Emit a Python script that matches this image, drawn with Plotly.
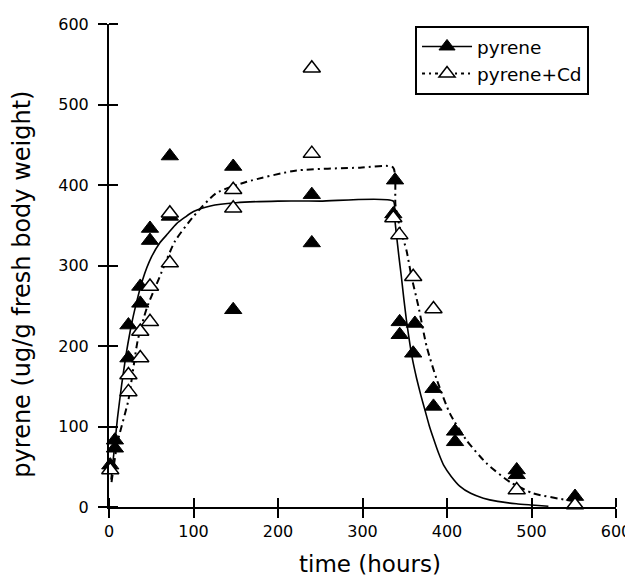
import plotly.graph_objects as go

# ---- data ----
t_pyr = [1.5, 7, 7, 23, 23, 37, 37, 48.5, 48.5, 72, 72, 147, 147, 240, 240,
         338.5, 336.5, 344, 344, 362, 360, 384, 384, 409.5, 409.5, 482.5, 482.5, 551.5]
y_pyr = [52, 83, 73, 226, 185, 274, 253, 346, 331, 436, 361, 423, 245, 388, 328,
         406, 364, 230, 214, 228, 191, 147, 125, 94, 81, 46, 40, 13]

t_cd = [1.5, 23, 23, 37, 37, 48.5, 48.5, 72, 72, 147, 147, 240, 240,
        336.5, 343.6, 360, 384, 482.5, 551.5]
y_cd = [46, 164, 143, 218, 185, 274, 230, 365, 303, 394, 371, 545, 439,
        359, 338, 286, 246, 21, 2.5]

fit_t_pyr = [2.4, 5, 10, 15, 20, 25, 30, 40, 50, 60, 70, 80, 90, 100, 120, 150, 200, 250,
             336.5, 338, 340, 343, 346, 349, 352, 355, 358, 361, 364, 369, 374, 379, 384,
             390, 396, 405, 415, 428, 443, 460, 482, 500, 520]
fit_y_pyr = [34, 59, 110, 152, 188, 218, 243, 283, 310, 328, 340, 352, 360, 367, 374, 378, 380, 380,
             380, 360, 340, 312, 286, 258, 232, 210, 190, 174, 160, 139, 120, 101, 85,
             67, 52, 38, 26, 17, 11, 7, 4, 2.5, 1]

fit_t_cd = [3, 10, 23, 34, 45, 60, 78, 100, 127, 163, 222, 297, 336,
            339, 344, 352, 358, 366, 376, 388, 403.5, 423, 447, 474.6, 502, 541.6, 552]
fit_y_cd = [31, 80, 133, 207, 248, 286, 330, 361, 390, 404, 418, 421.5, 422,
            375, 348, 319, 286, 250, 199, 158, 116, 83, 54, 31, 17, 8.7, 7]

x_ticks = [0, 100, 200, 300, 400, 500, 600]
y_ticks = [0, 100, 200, 300, 400, 500, 600]

x_title = "time (hours)"
y_title = "pyrene (ug/g fresh body weight)"

FONT = "DejaVu Sans"
DASH = "7px,4px,2px,4px"

fig = go.Figure()

# fitted curves
fig.add_trace(go.Scatter(x=fit_t_pyr, y=fit_y_pyr, mode="lines",
                         line=dict(color="black", width=1.6, shape="spline", smoothing=0.6),
                         showlegend=False, hoverinfo="skip"))
fig.add_trace(go.Scatter(x=fit_t_cd, y=fit_y_cd, mode="lines",
                         line=dict(color="black", width=2, dash=DASH, shape="spline", smoothing=0.6),
                         showlegend=False, hoverinfo="skip"))

# data points
fig.add_trace(go.Scatter(x=t_pyr, y=y_pyr, mode="markers", showlegend=False, cliponaxis=False,
                         marker=dict(symbol="triangle-up", size=15, color="black",
                                     line=dict(color="black", width=1))))
fig.add_trace(go.Scatter(x=t_cd, y=y_cd, mode="markers", showlegend=False, cliponaxis=False,
                         marker=dict(symbol="triangle-up", size=15, color="white",
                                     line=dict(color="black", width=1.5))))

# legend entries
fig.add_trace(go.Scatter(x=[None], y=[None], mode="lines+markers", name="pyrene",
                         line=dict(color="black", width=1.6),
                         marker=dict(symbol="triangle-up", size=14, color="black",
                                     line=dict(color="black", width=1))))
fig.add_trace(go.Scatter(x=[None], y=[None], mode="lines+markers", name="pyrene+Cd",
                         line=dict(color="black", width=2, dash="3px,4px,2px,4px"),
                         marker=dict(symbol="triangle-up", size=14, color="white",
                                     line=dict(color="black", width=1.5))))

axis_common = dict(showgrid=False, zeroline=False, color="black", automargin=False,
                   ticks="outside", ticklen=9, tickwidth=1.5, tickcolor="black",
                   showline=True, linecolor="black", linewidth=2,
                   tickfont=dict(family=FONT, size=16, color="black"))

# the page body has an 8px margin, so the figure is 8px smaller than the window
fig.update_layout(
    width=625, height=571,
    margin=dict(l=101, r=17, t=16, b=72),
    paper_bgcolor="white", plot_bgcolor="white",
    font=dict(family=FONT, color="black"),
    xaxis=dict(range=[0, 600], tickvals=x_ticks, ticktext=[str(v) for v in x_ticks],
               minor=dict(tickvals=x_ticks, ticks="inside", ticklen=9, tickwidth=1.5,
                          tickcolor="black", showgrid=False),
               **axis_common),
    yaxis=dict(range=[0, 600], tickvals=y_ticks, ticktext=[str(v) for v in y_ticks],
               minor=dict(tickvals=y_ticks, ticks="inside", ticklen=9, tickwidth=1.5,
                          tickcolor="black", showgrid=False),
               ticklabelstandoff=6,
               **axis_common),
    legend=dict(x=0.6036, y=0.996, xanchor="left", yanchor="top",
                bordercolor="black", borderwidth=2, bgcolor="white",
                font=dict(family=FONT, size=18.5, color="black"),
                tracegroupgap=0, itemwidth=50),
    annotations=[
        dict(text=x_title, xref="paper", yref="paper", x=0.515, y=-0.117,
             xanchor="center", yanchor="middle", showarrow=False,
             font=dict(family=FONT, size=23, color="black")),
        dict(text=y_title, xref="paper", yref="paper", x=-0.172, y=0.462,
             xanchor="center", yanchor="middle", showarrow=False, textangle=-90,
             font=dict(family=FONT, size=24, color="black")),
    ],
)

fig.write_html("out.html")
